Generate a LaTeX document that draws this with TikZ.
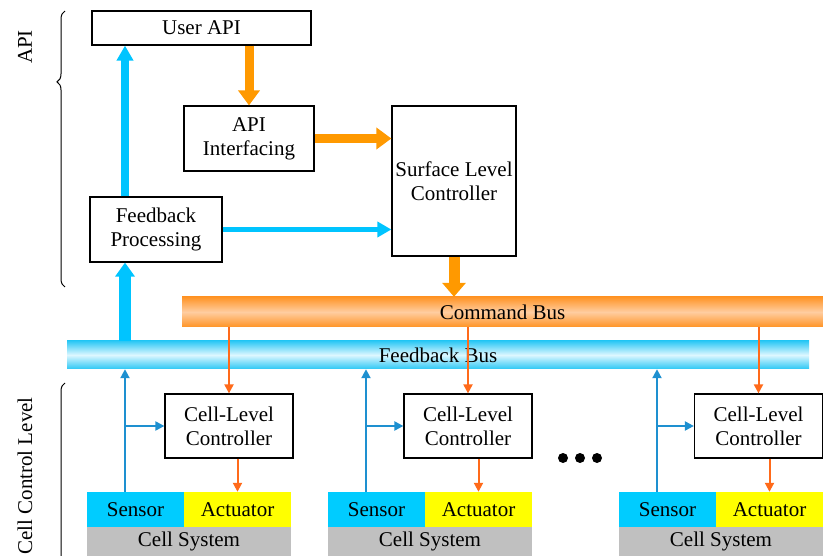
\documentclass[tikz,border=0pt]{standalone}
\usepackage{fontspec}
\setmainfont{Liberation Serif}
\usetikzlibrary{arrows.meta,decorations.pathreplacing}

\definecolor{thickorange}{HTML}{FF9900}
\definecolor{thickcyan}{HTML}{00C4FF}
\definecolor{cmdline}{HTML}{FF6A1A}
\definecolor{fbline}{HTML}{1E90D0}
\definecolor{sensorfill}{HTML}{00CCFF}
\definecolor{actfill}{HTML}{FFFF00}
\definecolor{sysfill}{HTML}{C0C0C0}
\definecolor{cbusedge}{HTML}{FF9426}
\definecolor{cbusmid}{HTML}{FFCDA0}
\definecolor{fbusedge}{HTML}{2CC8F5}
\definecolor{fbusmid}{HTML}{DDF7FF}

\begin{document}
\begin{tikzpicture}[x=1pt, y=-1pt, font=\fontsize{21}{24}\selectfont]
    \tikzset{
      box/.style={draw, line width=1.2pt, align=center, inner sep=1pt},
      cellctl/.style={box, minimum width=128pt, minimum height=64pt},
      cbus/.style={minimum width=641pt, minimum height=30pt, inner sep=0pt,
                   top color=cbusedge, bottom color=cbusedge, middle color=cbusmid},
      fbus/.style={minimum width=742pt, minimum height=28pt, inner sep=0pt,
                   top color=fbusedge, bottom color=fbusedge, middle color=fbusmid},
      sensor/.style={fill=sensorfill, minimum width=97pt, minimum height=35pt, inner sep=0pt},
      actuator/.style={fill=actfill, minimum width=107pt, minimum height=35pt, inner sep=0pt},
      cellsys/.style={fill=sysfill, minimum width=204pt, minimum height=29pt, inner sep=0pt},
      bigorange/.style={draw=thickorange, line width=9pt, -{Triangle[width=21pt,length=15pt]}},
      bigcyan/.style={draw=thickcyan, line width=8pt, -{Triangle[width=16pt,length=15pt]}},
      cmd/.style={draw=cmdline, line width=2pt, -{Triangle[width=9pt,length=9pt]}},
      fb/.style={draw=fbline, line width=2pt, -{Triangle[width=9pt,length=9pt]}},
      lbrace/.style={decorate, line width=1pt, decoration={brace, amplitude=8pt}},
    }
    \useasboundingbox (0,0) rectangle (823,556);

    \node[box, minimum width=219pt, minimum height=34pt] (uapi)  at (201.5, 28.0) {User API};
    \node[box, minimum width=130pt, minimum height=65pt] (apiif) at (249.0,138.5) {API\\Interfacing};
    \node[box, minimum width=132pt, minimum height=65pt] (fbp)   at (156.0,229.5) {Feedback\\Processing};
    \node[box, minimum width=124pt, minimum height=150pt] (slc)  at (454.0,181.0) {Surface Level\\Controller};

    \node[cbus] (cmdbus) at (502.5,312) {Command Bus};
    \node[fbus] (fbbus)  at (438.0,355) {Feedback Bus};

    \node[cellctl] (cl1) at (229.0,426) {Cell-Level\\Controller};
    \node[cellctl] (cl2) at (468.0,426) {Cell-Level\\Controller};
    \node[cellctl] (cl3) at (758.5,426) {Cell-Level\\Controller};

    \node[sensor]   (sen1) at (135.5,509.5) {Sensor};
    \node[actuator] (act1) at (237.5,509.5) {Actuator};
    \node[cellsys]  (sys1) at (189.0,541.5) {Cell System};
    \node[sensor]   (sen2) at (376.5,509.5) {Sensor};
    \node[actuator] (act2) at (478.5,509.5) {Actuator};
    \node[cellsys]  (sys2) at (430.0,541.5) {Cell System};
    \node[sensor]   (sen3) at (667.5,509.5) {Sensor};
    \node[actuator] (act3) at (769.5,509.5) {Actuator};
    \node[cellsys]  (sys3) at (721.0,541.5) {Cell System};

    \coordinate (t1) at (125,426);
    \coordinate (t2) at (366,426);
    \coordinate (t3) at (657,426);

    \draw[bigorange] (uapi.south -| apiif.north) -- (apiif.north);
    \draw[bigorange] (apiif.east) -- (apiif.east -| slc.west);
    \draw[bigorange, line width=11pt, -{Triangle[width=23pt,length=14pt]}]
      (slc.south) -- (slc.south |- cmdbus.north);
    \draw[bigcyan] (fbp.north -| t1) -- (uapi.south -| t1);
    \draw[bigcyan, line width=5.5pt, -{Triangle[width=15pt,length=14pt]}]
      (fbp.east) -- (fbp.east -| slc.west);
    \draw[bigcyan, line width=12pt, -{Triangle[width=19pt,length=14pt]}]
      (fbbus.north -| t1) -- (fbp.south -| t1);

    \draw[cmd] (cmdbus.south -| cl1.north) -- (cl1.north);
    \draw[cmd] (cmdbus.south -| cl2.north) -- (cl2.north);
    \draw[cmd] (cmdbus.south -| cl3.north) -- (cl3.north);
    \draw[cmd] (cl1.south -| act1.north) -- (act1.north);
    \draw[cmd] (cl2.south -| act2.north) -- (act2.north);
    \draw[cmd] (cl3.south -| act3.north) -- (act3.north);

    \draw[fb] (sen1.north -| t1) -- (fbbus.south -| t1);
    \draw[fb] (sen2.north -| t2) -- (fbbus.south -| t2);
    \draw[fb] (sen3.north -| t3) -- (fbbus.south -| t3);
    \draw[fb] (t1) -- (cl1.west);
    \draw[fb] (t2) -- (cl2.west);
    \draw[fb] (t3) -- (cl3.west);

    \fill (563,458) circle (5) (580,458) circle (5) (597,458) circle (5);

    \begin{scope}
      \clip (0,0) rectangle (823,556);
      \draw[lbrace, decoration={aspect=0.743}] (65,287) -- (65,11);
      \draw[lbrace] (65,760) -- (65,383);
    \end{scope}
    \node[rotate=90] (apilbl)  at (25,47)  {API};
    \node[rotate=90] (celllbl) at (25,476) {Cell Control Level};
  \end{tikzpicture}
\end{document}
